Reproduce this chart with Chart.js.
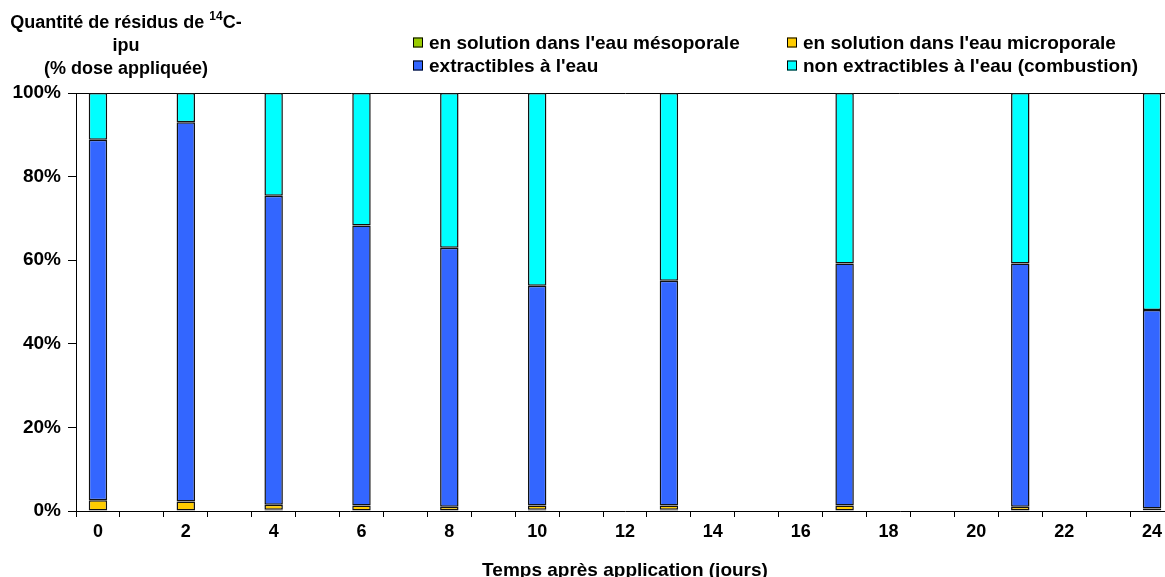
<!DOCTYPE html>
<html lang="fr">

<head>
  <meta charset="UTF-8">
  <script src="https://cdn.jsdelivr.net/npm/chart.js@4.4.1/dist/chart.umd.min.js"></script>
  <title>Quantité de résidus de 14C-ipu</title>
  <style>
    html, body { margin: 0; padding: 0; background: #fff; overflow: hidden; }
    canvas { display: block; }
  </style>
</head>

<body>
  <canvas id="myChart" width="1185" height="582"></canvas>
  <script>
    // jours d'échantillonnage (axe x: 0..24, une catégorie par jour)
    const dayLabels = ['0', '1', '2', '3', '4', '5', '6', '7', '8', '9', '10', '11', '12',
      '13', '14', '15', '16', '17', '18', '19', '20', '21', '22', '23', '24'];
    const sampleDays = [0, 2, 4, 6, 8, 10, 13, 17, 21, 24];

    // % dose appliquée
    const mesoporale = [0, 0, 0.3, 0, 0, 0.3, 0.3, 0, 0, 0.2];
    const microporale = [2.6, 2.3, 1.2, 1.3, 1.0, 1.0, 1.0, 1.3, 1.0, 0.4];
    const extractibles = [86.2, 90.7, 73.9, 67.0, 62.0, 52.6, 53.8, 57.9, 58.2, 47.5];
    const combustion = [11.2, 7.0, 24.6, 31.7, 37.0, 46.1, 44.9, 40.8, 40.8, 51.9];

    const yTicks = [0, 20, 40, 60, 80, 100];

    const titleLine1 = ['Quantité de résidus de ', '14', 'C-'];
    const titleLines = ['ipu', '(% dose appliquée)'];
    const xTitle = 'Temps après application (jours)';

    const FONT = '"Liberation Sans", Arial, sans-serif';

    // place the sampled values on the 0..24 category axis
    function spread(values) {
      const out = dayLabels.map(() => null);
      sampleDays.forEach((d, i) => { out[d] = values[i]; });
      return out;
    }

    const barStyle = {
      borderColor: '#111',
      borderWidth: 1.5,
      borderSkipped: false,
      barPercentage: 0.42,
      categoryPercentage: 1.0
    };

    const datasets = [
      { label: "en solution dans l'eau mésoporale", data: spread(mesoporale), backgroundColor: '#99CC00', ...barStyle },
      { label: "en solution dans l'eau microporale", data: spread(microporale), backgroundColor: '#FFCC00', ...barStyle },
      { label: "extractibles à l'eau", data: spread(extractibles), backgroundColor: '#3366FF', ...barStyle },
      { label: "non extractibles à l'eau (combustion)", data: spread(combustion), backgroundColor: '#00FFFF', ...barStyle }
    ];

    // legend in two columns, like the original sheet
    const legendPos = [
      { x: 413, y: 42.5 }, { x: 787, y: 42.5 },
      { x: 413, y: 65.5 }, { x: 787, y: 65.5 }
    ];

    const extras = {
      id: 'extras',
      afterDraw(chart) {
        const ctx = chart.ctx;
        ctx.save();
        ctx.fillStyle = '#000';
        ctx.textBaseline = 'middle';

        // y title (3 lines, centred)
        const cx = 126;
        ctx.font = 'bold 18px ' + FONT;
        const w0 = ctx.measureText(titleLine1[0]).width;
        const w2 = ctx.measureText(titleLine1[2]).width;
        ctx.font = 'bold 12px ' + FONT;
        const w1 = ctx.measureText(titleLine1[1]).width;
        let x = cx - (w0 + w1 + w2) / 2;
        ctx.textAlign = 'left';
        ctx.font = 'bold 18px ' + FONT;
        ctx.fillText(titleLine1[0], x, 23);
        ctx.font = 'bold 12px ' + FONT;
        ctx.fillText(titleLine1[1], x + w0, 17);
        ctx.font = 'bold 18px ' + FONT;
        ctx.fillText(titleLine1[2], x + w0 + w1, 23);
        ctx.textAlign = 'center';
        ctx.fillText(titleLines[0], cx, 46);
        ctx.fillText(titleLines[1], cx, 69);

        // legend
        ctx.textAlign = 'left';
        ctx.font = 'bold 19px ' + FONT;
        chart.data.datasets.forEach((ds, i) => {
          const p = legendPos[i];
          ctx.fillStyle = ds.backgroundColor;
          ctx.fillRect(p.x, p.y - 5, 10, 10);
          ctx.strokeStyle = '#000';
          ctx.lineWidth = 1;
          ctx.strokeRect(p.x + 0.5, p.y - 4.5, 9, 9);
          ctx.fillStyle = '#000';
          ctx.fillText(ds.label, p.x + 16, p.y + 1);
        });
        ctx.restore();
      }
    };

    const ctx = document.getElementById('myChart').getContext('2d');
    const myChart = new Chart(ctx, {
      type: 'bar',
      data: { labels: dayLabels, datasets: datasets },
      plugins: [extras],
      options: {
        responsive: false,
        animation: false,
        layout: { padding: { top: 93, left: 0, right: 11, bottom: 0 } },
        plugins: {
          legend: { display: false },
          tooltip: { enabled: false }
        },
        scales: {
          x: {
            stacked: true,
            offset: true,
            afterFit(scale) { scale.height = 71; },
            grid: { offset: true, drawOnChartArea: false, tickLength: 6, tickColor: '#000' },
            border: { display: true, color: '#000', width: 1 },
            ticks: {
              autoSkip: false,
              maxRotation: 0,
              padding: 4,
              color: '#000',
              font: { family: FONT, size: 18, weight: 'bold' },
              callback(v, i) { return i % 2 === 0 ? this.getLabelForValue(v) : ''; }
            },
            title: {
              display: true,
              text: xTitle,
              color: '#000',
              padding: { top: 4, bottom: 0 },
              font: { family: FONT, size: 19, weight: 'bold' }
            }
          },
          y: {
            stacked: true,
            min: 0,
            max: 100,
            afterFit(scale) { scale.width = 76; },
            afterBuildTicks(scale) { scale.ticks = yTicks.map(v => ({ value: v })); },
            grid: {
              drawOnChartArea: true,
              color: c => (c.tick && c.tick.value === 100) ? '#000' : 'rgba(0,0,0,0)',
              tickColor: '#000',
              tickLength: 8
            },
            border: { display: true, color: '#000', width: 1 },
            ticks: {
              padding: 7,
              color: '#000',
              font: { family: FONT, size: 19, weight: 'bold' },
              callback: v => v + '%'
            }
          }
        }
      }
    });
  </script>
</body>

</html>
